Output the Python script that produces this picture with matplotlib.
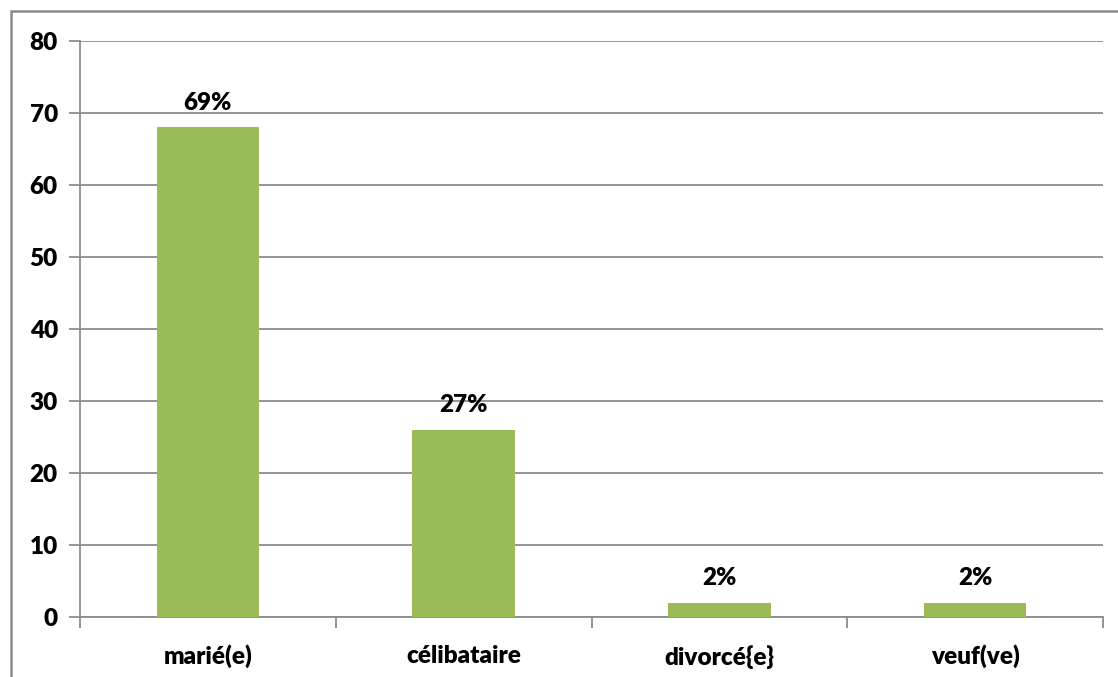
import matplotlib
matplotlib.use('Agg')
import matplotlib.pyplot as plt
from matplotlib.patches import Rectangle
import numpy as np

# Marital status counts
categories = ['marié(e)', 'célibataire', 'divorcé{e}', 'veuf(ve)']
counts = [68, 26, 2, 2]
y_ticks = [0, 10, 20, 30, 40, 50, 60, 70, 80]

BAR_COLOR = '#9BBB59'
GRID_COLOR = '#8c8c8c'
FS = 17.5
FW = 'heavy'

plt.rcParams['font.family'] = ['Lato', 'DejaVu Sans']

W, H = 1118, 677
fig = plt.figure(figsize=(W / 100, H / 100), dpi=100)
ax = fig.add_axes([80 / W, 1 - 617 / H, (1103 - 80) / W, (617 - 41) / H])

x = np.arange(len(categories))
ax.bar(x, counts, width=0.4, color=BAR_COLOR, zorder=3)

total = sum(counts)
for xi, v in zip(x, counts):
    ax.annotate(f'{round(v / total * 100)}%', (xi, v), xytext=(0, 10),
                textcoords='offset points', ha='center', va='bottom',
                fontsize=FS, fontweight=FW, color='black')

ax.set_xlim(-0.5, len(categories) - 0.5)
ax.set_ylim(0, 80)
ax.set_yticks(y_ticks)
ax.set_yticklabels([str(t) for t in y_ticks], fontsize=FS, fontweight=FW)
ax.yaxis.grid(True, color=GRID_COLOR, linewidth=1.3, zorder=0)

# category labels centred, boundary ticks between them
ax.set_xticks(x)
ax.set_xticklabels(categories, fontsize=FS, fontweight=FW)
ax.tick_params(axis='x', length=0, pad=20)
ax.set_xticks(np.arange(len(categories) + 1) - 0.5, minor=True)
ax.tick_params(axis='x', which='minor', length=8, width=1.3, color=GRID_COLOR)
ax.tick_params(axis='y', length=8, width=1.3, color=GRID_COLOR, pad=8)

for side in ('top', 'right'):
    ax.spines[side].set_visible(False)
for side in ('left', 'bottom'):
    ax.spines[side].set_color(GRID_COLOR)
    ax.spines[side].set_linewidth(1.3)

# outer frame
fig.patches.append(Rectangle((11 / W, -0.1), 1.2, 1 - 11 / H + 0.1,
                             transform=fig.transFigure, fill=False,
                             edgecolor=GRID_COLOR, linewidth=1.8))

fig.savefig('out.png', dpi=100, facecolor='white')
